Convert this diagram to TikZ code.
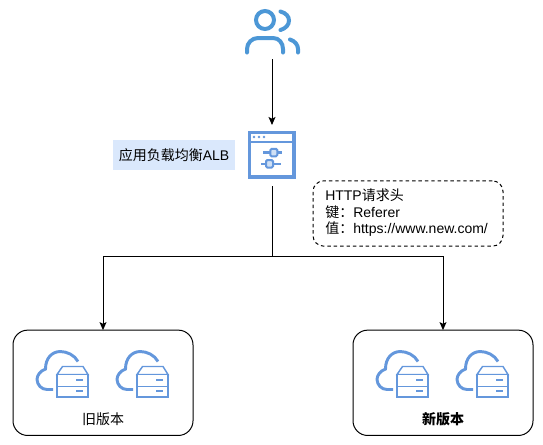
\documentclass[tikz,border=0pt]{standalone}
\usepackage{fontspec}
\setmainfont{Liberation Sans}
\newfontfamily\cjk{Noto Sans CJK SC}
\usetikzlibrary{arrows.meta}
\definecolor{userblue}{HTML}{4C97D6}
\definecolor{iconblue}{HTML}{6497DC}
\definecolor{knobfill}{HTML}{CFE0F5}
\definecolor{labelfill}{HTML}{DAE8FC}
\tikzset{
  anchorbox/.style={inner sep=0pt,outer sep=0pt},
  conn/.style={draw=black,line width=0.75pt,-{Stealth[length=6pt,width=5.2pt,inset=1.3pt]}},
  plainconn/.style={draw=black,line width=0.75pt},
  versionbox/.style={draw=black,line width=0.75pt,rounded corners=11pt,minimum width=135pt,minimum height=79pt,inner sep=0pt,outer sep=0pt},
  notebox/.style={draw=black,line width=0.75pt,dashed,dash pattern=on 2.6pt off 2.2pt,rounded corners=8pt,minimum width=142.5pt,minimum height=49pt,inner sep=0pt},
  labelbox/.style={fill=labelfill,minimum width=91.5pt,minimum height=22.5pt,inner sep=0pt},
  txt/.style={font=\fontsize{10.5pt}{12pt}\selectfont,inner sep=0pt,text=black},
  usericon/.style={draw=userblue,line width=3pt,line cap=round},
  lbicon/.style={draw=iconblue,line width=1.6pt},
  knob/.style={draw=iconblue,line width=1.5pt,fill=knobfill,rounded corners=1pt},
  srv/.style={draw=iconblue,line width=1.1pt},
  cloudline/.style={draw=iconblue,line width=2.2pt},
}
\newcommand{\hosticon}[2]{%
  \begin{scope}[shift={(#1,#2)}]
    \draw[cloudline] (78,361.5) .. controls (74.5,355) and (67,351.5) .. (60,351.5)
      .. controls (52,351.8) and (45.5,358) .. (45.5,369)
      .. controls (40,371) and (37,375.5) .. (37,379.5)
      .. controls (37.3,385) and (41.5,389.5) .. (47,389.5) -- (53,389.5);
    \draw[srv,fill=white] (57,374.5) -- (62.5,366.5) -- (83,366.5) -- (88,374.5) -- cycle;
    \draw[srv,fill=white] (57,374.5) rectangle (88,397.2);
    \draw[srv] (57,386.3) -- (88,386.3);
    \draw[srv,line width=1.6pt] (76.3,380) -- (83,380);
    \draw[srv,line width=1.6pt] (76.3,391) -- (83,391);
  \end{scope}}
\begin{document}
\begin{tikzpicture}[x=0.75pt,y=-0.75pt]
\useasboundingbox (0,0) rectangle (543,444);
% user icon
\node[anchorbox,minimum width=39pt,minimum height=44pt] (users) at (272,30) {};
\draw[usericon] (265,20) circle (9);
\draw[usericon] (280.5,11.5) .. controls (286,13) and (289,16.5) .. (289,20.5) .. controls (289,25) and (285.5,28.5) .. (280.5,30);
\draw[usericon] (247,52.5) -- (247,49) .. controls (247,43) and (252,38) .. (258,38) -- (273,38) .. controls (279,38) and (283,43) .. (283,49) -- (283,52.5);
\draw[usericon] (290,39.5) .. controls (295,41) and (298,45) .. (298,49) -- (298,52.5);
% LB icon
\node[anchorbox,minimum width=45pt,minimum height=45.75pt] (lb) at (272,155.5) {};
\draw[draw=iconblue,line width=2.8pt] (249.5,132.5) rectangle (294,177);
\draw[draw=iconblue,line width=2pt] (249.5,142) -- (294,142);
\foreach \dotx in {254,259,264} \fill[iconblue] (\dotx,137) circle (1.3);
\draw[lbicon] (263.3,152.5) -- (282.3,152.5);
\draw[knob] (270.3,148.8) rectangle (277.3,156.3);
\draw[lbicon] (261,163.8) -- (281,163.8);
\draw[knob] (266,160) rectangle (273,167.5);
% label
\node[labelbox] (lblabel) at (174,155) {};
\node[txt] (lbtext) at (174,155) {{\cjk 应用负载均衡}ALB};
% note
\node[notebox] (note) at (408,213.5) {};
\node[txt,anchor=west] (n1) at (325,195.5) {HTTP{\cjk 请求头}};
\node[txt,anchor=west] (n2) at (325,212.5) {{\cjk 键：}Referer};
\node[txt,anchor=west] (n3) at (325,229) {{\cjk 值：}https://www.new.com/};
% version boxes
\node[versionbox] (old) at (103,382.8) {};
\node[versionbox] (new) at (443,382.8) {};
\hosticon{0}{0}
\hosticon{80}{0}
\hosticon{340}{0}
\hosticon{420}{0}
\node[txt] (oldtext) at (103,419) {\cjk 旧版本};
\node[txt] (newtext) at (443,419) {\cjk\bfseries 新版本};
% connectors
\coordinate (split) at (272,256);
\draw[conn] (users) -- (lb);
\draw[plainconn] (lb) -- (split);
\draw[conn] (split) -| (old.north);
\draw[conn] (split) -| (new.north);
\end{tikzpicture}
\end{document}
